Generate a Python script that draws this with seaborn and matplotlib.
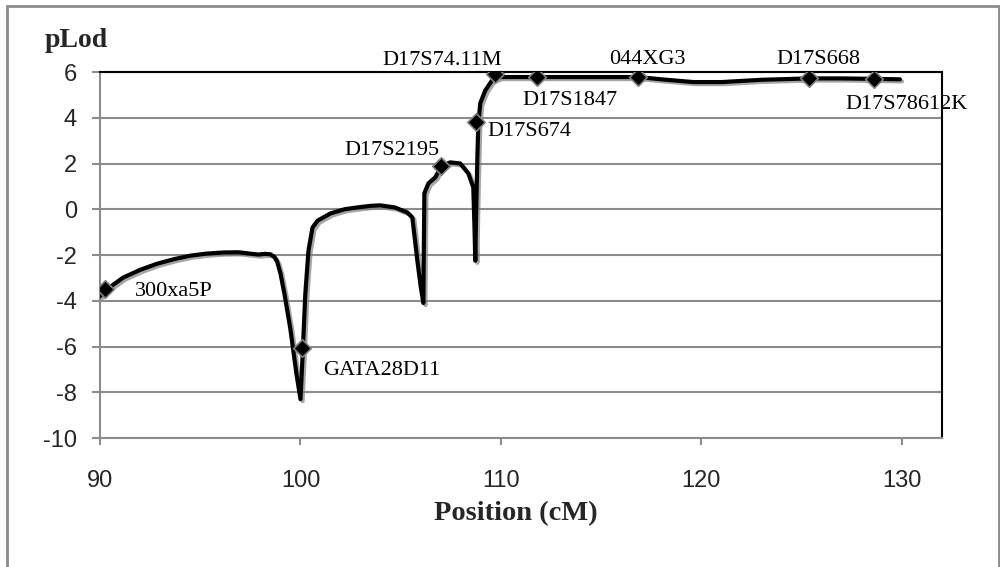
import numpy as np
import pandas as pd
import matplotlib
matplotlib.use('Agg')
import matplotlib.pyplot as plt
import matplotlib.patheffects as pe
from matplotlib.patches import Rectangle
import seaborn as sns

# pLod curve
curve_pos = [90.0, 90.5, 91.15, 92.0, 92.85, 93.7, 94.5, 95.3, 96.14, 96.9, 97.49, 97.9, 98.24, 98.5,
             98.7, 98.84, 99.0, 99.2, 99.49, 99.8, 100.0, 100.1, 100.24, 100.4, 100.6, 100.85, 101.5,
             102.2, 102.83, 103.5, 103.98, 104.7, 105.33, 105.58, 105.83, 106.0, 106.13, 106.15, 106.18,
             106.38, 106.73, 107.02, 107.47, 107.97, 108.37, 108.62, 108.68, 108.72, 108.76, 108.82,
             108.87, 108.97, 109.22, 109.57, 109.97, 110.8, 111.82, 113.5, 115.0, 116.86, 118.0, 119.6,
             121.0, 123.0, 125.35, 127.0, 128.6, 129.9]
curve_lod = [-3.8, -3.4, -2.99, -2.65, -2.38, -2.18, -2.03, -1.94, -1.89, -1.88, -1.94, -1.98, -1.95, -1.97,
             -2.08, -2.3, -2.8, -3.7, -5.2, -7.2, -8.3, -6.5, -3.7, -1.8, -0.8, -0.5, -0.18,
             -0.0, 0.08, 0.15, 0.17, 0.08, -0.14, -0.36, -2.25, -3.4, -4.1, -2.0, 0.7,
             1.13, 1.4, 1.88, 2.05, 2.0, 1.57, 0.96, -0.8, -2.25, -0.2, 2.14,
             3.76, 4.64, 5.2, 5.65, 5.78, 5.78, 5.78, 5.78, 5.78, 5.78, 5.68, 5.56,
             5.56, 5.66, 5.72, 5.72, 5.7, 5.68]

# markers
marker_names = ['300xa5P', 'GATA28D11', 'D17S2195', 'D17S674', 'D17S74.11M',
                'D17S1847', '044XG3', 'D17S668', 'D17S78612K']
marker_pos = [90.25, 100.08, 107.0, 108.77, 109.72, 111.82, 116.86, 125.35, 128.6]
marker_lod = [-3.47, -6.06, 1.88, 3.8, 5.9, 5.78, 5.78, 5.72, 5.7]

# label anchors (data coords) and alignment
label_x = [91.75, 101.13, 104.58, 109.32, 107.07, 111.07, 117.28, 125.82, 127.2]
label_y = [-3.6, -7.07, 2.55, 3.42, 6.52, 4.77, 6.56, 6.56, 4.6]
label_ha = ['left', 'left', 'center', 'left', 'center', 'left', 'center', 'center', 'left']

y_ticks = [-10, -8, -6, -4, -2, 0, 2, 4, 6]
x_ticks = [90, 100, 110, 120, 130]

curve_df = pd.DataFrame({'Position': curve_pos, 'pLod': curve_lod})
marker_df = pd.DataFrame({'Position': marker_pos, 'pLod': marker_lod, 'Marker': marker_names})

sns.set_style('white')
plt.rcParams['font.family'] = ['Liberation Sans', 'DejaVu Sans']

fig = plt.figure(figsize=(10, 5.67), dpi=100)
ax = fig.add_axes([0.100, 0.2275, 0.842, 0.6455])

shadow = [pe.SimpleLineShadow(offset=(1.5, -1.5), shadow_color='#808080', alpha=0.7), pe.Normal()]

sns.lineplot(data=curve_df, x='Position', y='pLod', sort=False, estimator=None,
             color='black', linewidth=3, ax=ax, zorder=3)
ax.lines[-1].set_path_effects(shadow)

sns.scatterplot(data=marker_df, x='Position', y='pLod', marker='D', s=80,
                color='black', edgecolor='#808080', linewidth=1.2, ax=ax, zorder=4)

for name, lx, ly, ha in zip(marker_names, label_x, label_y, label_ha):
    ax.text(lx, ly, name, ha=ha, va='center', fontsize=16,
            family='Liberation Serif', color='black', zorder=5)

ax.set_xlim(90, 132)
ax.set_ylim(-10, 6)
ax.set_xticks(x_ticks)
ax.set_yticks(y_ticks)
ax.set_xticklabels([str(t) for t in x_ticks])
ax.set_yticklabels([str(t) for t in y_ticks])

ax.yaxis.grid(True, color='#8c8c8c', linewidth=1.5)
ax.xaxis.grid(False)
ax.set_axisbelow(True)

for side in ['left', 'bottom']:
    ax.spines[side].set_color('#8c8c8c')
    ax.spines[side].set_linewidth(1.5)
for side in ['top', 'right']:
    ax.spines[side].set_visible(True)
    ax.spines[side].set_color('black')
    ax.spines[side].set_linewidth(1.5)

ax.tick_params(axis='x', which='both', bottom=True, direction='out', length=5, width=1.5,
               color='#8c8c8c', pad=18, labelsize=17)
ax.tick_params(axis='y', which='both', left=True, direction='out', length=5.5, width=1.5,
               color='#8c8c8c', pad=11, labelsize=17)

ax.set_xlabel('')
ax.set_ylabel('')
fig.text(0.516, 0.0935, 'Position (cM)', ha='center', va='center', fontsize=20.5,
         fontweight='bold', family='Liberation Serif')
fig.text(0.045, 0.928, 'pLod', ha='left', va='center', fontsize=20,
         fontweight='bold', family='Liberation Serif')

fig.patches.append(Rectangle((0.007, -0.05), 0.992, 1.039, transform=fig.transFigure,
                             fill=False, edgecolor='#8c8c8c', linewidth=2))

plt.savefig('out.png', dpi=100)
plt.close()
